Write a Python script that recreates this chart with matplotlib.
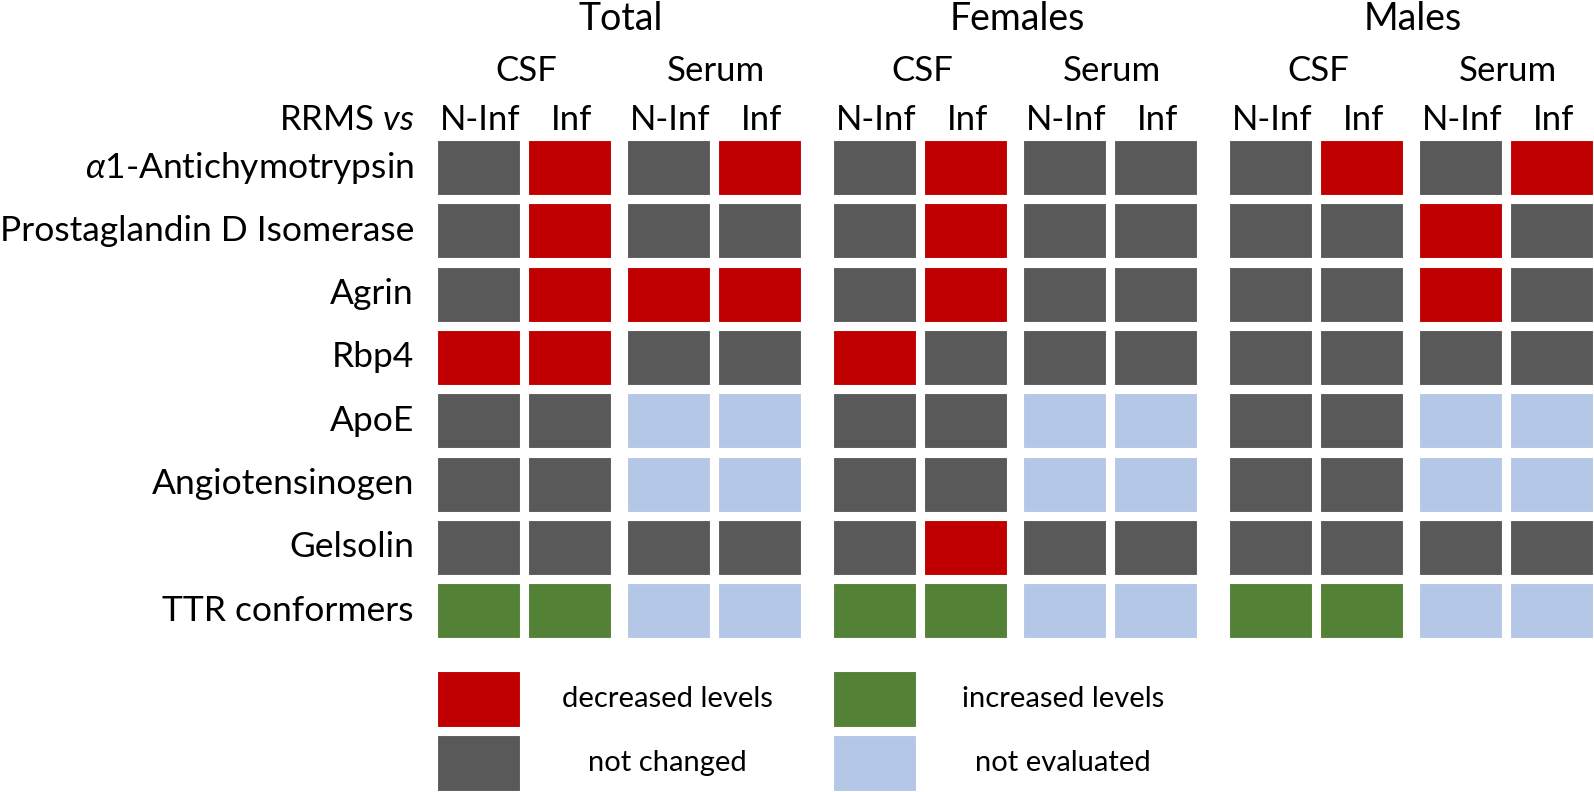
import matplotlib.pyplot as plt
from matplotlib.patches import Rectangle

plt.rcParams['font.family'] = ['Lato', 'DejaVu Sans']
plt.rcParams['mathtext.fontset'] = 'custom'
plt.rcParams['mathtext.rm'] = 'Lato'
plt.rcParams['mathtext.it'] = 'Lato:italic'

groups = ['Total', 'Females', 'Males']
fluids = ['CSF', 'Serum']
comparisons = ['N-Inf', 'Inf']
proteins = [r'$\alpha$1-Antichymotrypsin', 'Prostaglandin D Isomerase', 'Agrin', 'Rbp4',
            'ApoE', 'Angiotensinogen', 'Gelsolin', 'TTR conformers']

# d = decreased, n = not changed, i = increased, e = not evaluated
# columns: Total CSF N-Inf, Inf, Serum N-Inf, Inf, Females ..., Males ...
status = [
    'ndnd' + 'ndnn' + 'ndnd',
    'ndnn' + 'ndnn' + 'nndn',
    'nddd' + 'ndnn' + 'nndn',
    'ddnn' + 'dnnn' + 'nnnn',
    'nnee' + 'nnee' + 'nnee',
    'nnee' + 'nnee' + 'nnee',
    'nnnn' + 'ndnn' + 'nnnn',
    'iiee' + 'iiee' + 'iiee',
]
legend_keys = ['d', 'i', 'n', 'e']
legend_labels = ['decreased levels', 'increased levels', 'not changed', 'not evaluated']
colors = {'d': '#C00000', 'n': '#595959', 'i': '#538135', 'e': '#B4C7E7'}

fig = plt.figure(figsize=(15.94, 7.92), dpi=100)
ax = fig.add_axes([0, 0, 1, 1])
ax.set_xlim(0, 1594)
ax.set_ylim(792, 0)
ax.axis('off')

x0, y0 = 437, 140
cw, ch = 83, 55
gp, sp, kp, rp = 396, 190, 91, 63.3

def col_x(j):
    g, s, k = j // 4, (j // 2) % 2, j % 2
    return x0 + g * gp + s * sp + k * kp

for r, row in enumerate(status):
    y = y0 + r * rp
    for j, c in enumerate(row):
        ax.add_patch(Rectangle((col_x(j), y), cw, ch, facecolor=colors[c],
                               edgecolor='white', lw=0.8))
    ax.text(414, y + ch / 2, proteins[r], ha='right', va='center', fontsize=25.5)

fs = 25
for g, name in enumerate(groups):
    xc = (col_x(g * 4) + col_x(g * 4 + 3) + cw) / 2
    ax.text(xc + 2, 19, name, ha='center', va='center', fontsize=27)
    for s, fl in enumerate(fluids):
        xs = (col_x(g * 4 + s * 2) + col_x(g * 4 + s * 2 + 1) + cw) / 2
        ax.text(xs + 2, 71, fl, ha='center', va='center', fontsize=fs)
        for k, cmp in enumerate(comparisons):
            j = g * 4 + s * 2 + k
            ax.text(col_x(j) + cw / 2 + 2, 120, cmp, ha='center', va='center', fontsize=fs)
ax.text(414, 120, 'RRMS $vs$', ha='right', va='center', fontsize=fs)

# legend
for i, (key, lab) in enumerate(zip(legend_keys, legend_labels)):
    lx = col_x(0) if i % 2 == 0 else col_x(4)
    ly = 671 + (i // 2) * 64
    ax.add_patch(Rectangle((lx, ly), cw, 56, facecolor=colors[key], edgecolor='white', lw=0.8))
    ax.text(lx + 230, ly + 28, lab, ha='center', va='center', fontsize=21)

fig.savefig('out.png', dpi=100)
